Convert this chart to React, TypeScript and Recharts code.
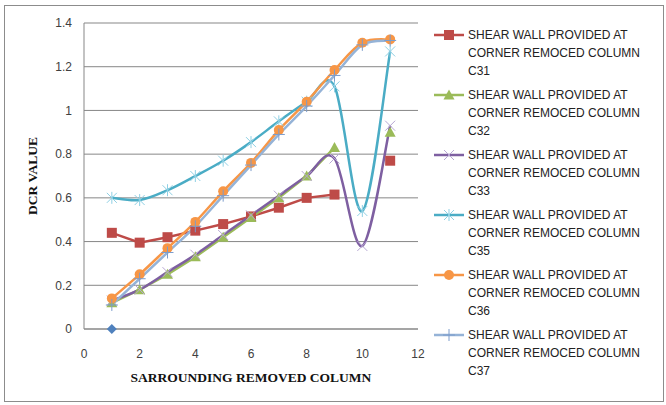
import { LineChart, Line, XAxis, YAxis, CartesianGrid } from "recharts";

const COLUMNS = [1, 2, 3, 4, 5, 6, 7, 8, 9, 10, 11];
const BASE = [0, null, null, null, null, null, null, null, null, null, null];
const C31 = [0.44, 0.395, 0.42, 0.45, 0.48, 0.515, 0.555, 0.6, 0.615, null, 0.77];
const C32 = [0.12, 0.18, 0.25, 0.33, 0.42, 0.51, 0.6, 0.7, 0.83, null, 0.9];
const C33 = [0.13, 0.18, 0.26, 0.34, 0.43, 0.52, 0.61, 0.7, 0.78, 0.38, 0.93];
const C35 = [0.6, 0.59, 0.635, 0.7, 0.77, 0.855, 0.95, 1.04, 1.11, 0.54, 1.27];
const C36 = [0.14, 0.25, 0.37, 0.49, 0.63, 0.76, 0.91, 1.04, 1.185, 1.31, 1.325];
const C37 = [0.11, 0.23, 0.35, 0.47, 0.61, 0.75, 0.89, 1.02, 1.16, 1.3, 1.32];

const X_TICKS = [0, 2, 4, 6, 8, 10, 12];
const Y_TICKS = [0, 0.2, 0.4, 0.6, 0.8, 1, 1.2, 1.4];
const LEGEND_TEXT = ["SHEAR WALL PROVIDED AT", "CORNER REMOCED COLUMN"];

const data = COLUMNS.map((x, i) => ({
  x,
  base: BASE[i],
  c31: C31[i],
  c32: C32[i],
  c33: C33[i],
  c35: C35[i],
  c36: C36[i],
  c37: C37[i],
}));

const GRID = "#878787";
const TICK = "#404040";

// excel-like smoothing (catmull-rom as bezier)
function excelSmooth(context: any) {
  let pts: number[][] = [];
  const flush = () => {
    if (!pts.length) return;
    context.moveTo(pts[0][0], pts[0][1]);
    for (let i = 0; i < pts.length - 1; i++) {
      const p0 = pts[i - 1] || pts[i];
      const p1 = pts[i];
      const p2 = pts[i + 1];
      const p3 = pts[i + 2] || pts[i + 1];
      context.bezierCurveTo(
        p1[0] + (p2[0] - p0[0]) / 6,
        p1[1] + (p2[1] - p0[1]) / 6,
        p2[0] - (p3[0] - p1[0]) / 6,
        p2[1] - (p3[1] - p1[1]) / 6,
        p2[0],
        p2[1]
      );
    }
  };
  return {
    areaStart() {},
    areaEnd() {},
    lineStart() {
      pts = [];
    },
    lineEnd() {
      flush();
      pts = [];
    },
    point(x: number, y: number) {
      pts.push([+x, +y]);
    },
  };
}

type Kind = "diamond" | "square" | "triangle" | "x" | "star" | "circle" | "plus";

function Marker({ kind, cx, cy, color, accent }: { kind: Kind; cx: number; cy: number; color: string; accent?: string }) {
  const r = 5;
  switch (kind) {
    case "diamond":
      return <path d={`M${cx},${cy - 5} L${cx + 5},${cy} L${cx},${cy + 5} L${cx - 5},${cy} Z`} fill={color} />;
    case "square":
      return <rect x={cx - r} y={cy - r} width={2 * r} height={2 * r} fill={color} />;
    case "triangle":
      return <path d={`M${cx},${cy - 5.5} L${cx + 5.5},${cy + 4.5} L${cx - 5.5},${cy + 4.5} Z`} fill={color} />;
    case "circle":
      return <circle cx={cx} cy={cy} r={r} fill={color} />;
    case "x":
      return (
        <path
          d={`M${cx - 5},${cy - 5} L${cx + 5},${cy + 5} M${cx - 5},${cy + 5} L${cx + 5},${cy - 5}`}
          stroke={accent || color}
          strokeWidth={1}
          fill="none"
        />
      );
    case "star":
      return (
        <path
          d={`M${cx - 5},${cy - 5} L${cx + 5},${cy + 5} M${cx - 5},${cy + 5} L${cx + 5},${cy - 5} M${cx},${cy - 6} L${cx},${cy + 6}`}
          stroke={accent || color}
          strokeWidth={1}
          fill="none"
        />
      );
    case "plus":
      return (
        <path
          d={`M${cx - 6},${cy} L${cx + 6},${cy} M${cx},${cy - 6} L${cx},${cy + 6}`}
          stroke={accent || color}
          strokeWidth={1}
          fill="none"
        />
      );
  }
  return null;
}

const dotFor = (kind: Kind, color: string, accent?: string) => (props: any) => {
  const { cx, cy, value, index, dataKey } = props;
  if (value == null || !Number.isFinite(cx) || !Number.isFinite(cy)) return <g key={`${dataKey}-${index}`} />;
  return (
    <g key={`${dataKey}-${index}`}>
      <Marker kind={kind} cx={cx} cy={cy} color={color} accent={accent} />
    </g>
  );
};

const SERIES: { key: string; name: string; color: string; kind: Kind; accent?: string; smooth: boolean }[] = [
  { key: "c31", name: "C31", color: "#BE4B48", kind: "square", smooth: false },
  { key: "c32", name: "C32", color: "#9BBB59", kind: "triangle", smooth: false },
  { key: "c33", name: "C33", color: "#7E5FA1", kind: "x", accent: "#B7A7D3", smooth: true },
  { key: "c35", name: "C35", color: "#4AACC5", kind: "star", accent: "#8FD0E4", smooth: true },
  { key: "c36", name: "C36", color: "#F79646", kind: "circle", smooth: true },
  { key: "c37", name: "C37", color: "#95B3D7", kind: "plus", accent: "#7C9CCB", smooth: true },
];

function ChartLegend() {
  return (
    <div
      style={{
        position: "absolute",
        left: 432,
        top: 26,
        fontFamily: "'Liberation Sans', Arial, sans-serif",
        fontSize: 12,
        color: "#222",
      }}
    >
      {SERIES.map((s) => (
        <div key={s.key} style={{ display: "flex", height: 60 }}>
          <svg width={36} height={18} style={{ flex: "none" }}>
            <line x1={2} y1={9} x2={32} y2={9} stroke={s.color} strokeWidth={2.5} />
            <Marker kind={s.kind} cx={17} cy={9} color={s.color} accent={s.accent} />
          </svg>
          <div style={{ lineHeight: "18px", whiteSpace: "nowrap" }}>
            <div>{LEGEND_TEXT[0]}</div>
            <div>{LEGEND_TEXT[1]}</div>
            <div>{s.name}</div>
          </div>
        </div>
      ))}
    </div>
  );
}

export default function App() {
  return (
    <div style={{ position: "absolute", left: 0, top: 0, width: 666, height: 405, background: "#fff" }}>
      <div
        style={{
          position: "absolute",
          left: 4,
          top: 5,
          width: 658,
          height: 395,
          border: "1px solid #8c8c8c",
        }}
      />
      <LineChart
        width={666}
        height={405}
        data={data}
        margin={{ top: 23, right: 248, bottom: 46, left: 0 }}
        style={{ position: "absolute", left: 0, top: 0 }}
      >
        <CartesianGrid stroke={GRID} vertical={false} />
        <XAxis
          dataKey="x"
          type="number"
          domain={[0, 12]}
          ticks={X_TICKS}
          height={30}
          tickLine={false}
          tickMargin={14}
          axisLine={{ stroke: GRID }}
          tick={{ fill: TICK, fontSize: 12, fontFamily: "'Liberation Sans', Arial, sans-serif" }}
          label={{
            value: "SARROUNDING REMOVED COLUMN",
            position: "insideBottom",
            offset: -23,
            style: {
              fontFamily: "'Liberation Serif', 'Times New Roman', serif",
              fontWeight: 700,
              fontSize: 13.5,
              fill: "#111",
            },
          }}
        />
        <YAxis
          type="number"
          domain={[0, 1.4]}
          ticks={Y_TICKS}
          width={84}
          tickLine={false}
          tickMargin={6}
          axisLine={{ stroke: GRID }}
          tick={{ fill: TICK, fontSize: 12, fontFamily: "'Liberation Sans', Arial, sans-serif" }}
        />
        <Line dataKey="base" stroke="none" dot={dotFor("diamond", "#4F81BD")} isAnimationActive={false} />
        {SERIES.map((s) => (
          <Line
            key={s.key}
            dataKey={s.key}
            name={s.name}
            type={s.smooth ? (excelSmooth as any) : "linear"}
            stroke={s.color}
            strokeWidth={2.5}
            dot={dotFor(s.kind, s.color, s.accent)}
            activeDot={false}
            isAnimationActive={false}
          />
        ))}
      </LineChart>
      <div
        style={{
          position: "absolute",
          left: 33,
          top: 176,
          transform: "translate(-50%, -50%) rotate(-90deg)",
          whiteSpace: "nowrap",
          fontFamily: "'Liberation Serif', 'Times New Roman', serif",
          fontWeight: 700,
          fontSize: 13.5,
          color: "#111",
        }}
      >
        DCR VALUE
      </div>
      <ChartLegend />
    </div>
  );
}
